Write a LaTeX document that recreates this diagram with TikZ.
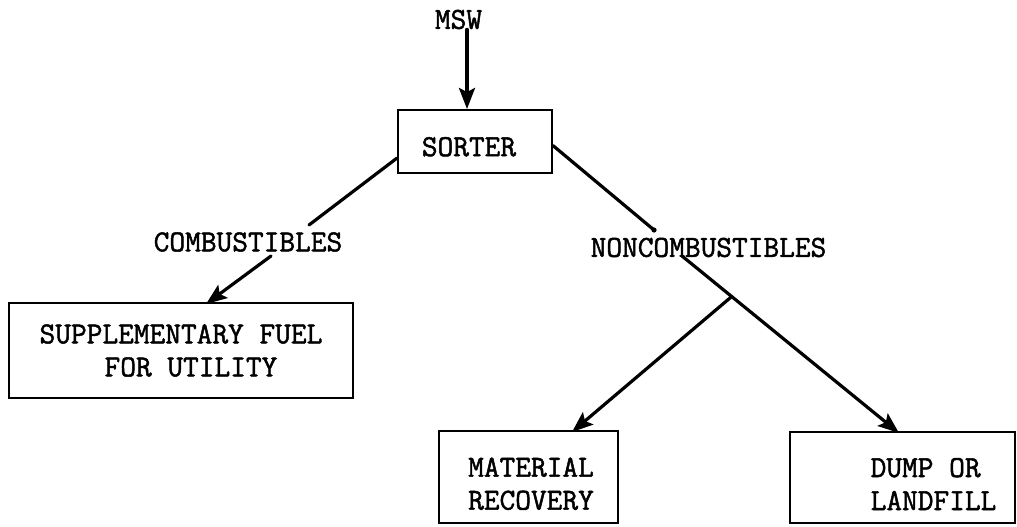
\documentclass[tikz,border=0pt]{standalone}
\usepackage{fontspec}
\usetikzlibrary{arrows.meta,calc}
% a slightly heavier typewriter face
\newfontfamily\typewriter[FakeBold=1.6]{lmmono12-regular.otf}
\begin{document}
\begin{tikzpicture}[x=1pt,y=-1pt,
  every node/.style={font={\typewriter\fontsize{30.5}{33}\selectfont}},
  box/.style={draw, line width=2pt, inner sep=0pt},
  tag/.style={inner sep=0pt},
  link/.style={line width=3.2pt, line cap=round},
  arr/.style={link, -{Stealth[length=21pt,width=16pt,inset=4pt]}}]

\useasboundingbox (0,0) rectangle (1017,527);

% text labels and boxes
\node[tag] (msw) at (458.5,19.5) {MSW};
\node[box, minimum width=154pt, minimum height=63pt] (sorter) at (475,141.5)
  {\rule{0pt}{29.6pt}SORTER\hspace*{12pt}};
\node[tag] (comb) at (248,242) {COMBUSTIBLES};
\node[tag] (noncomb) at (708.5,247.5) {NONCOMBUSTIBLES};
\node[box, minimum width=344pt, minimum height=95pt, align=center] (fuel) at (181,350.5)
  {SUPPLEMENTARY FUEL\\\hspace*{20pt}FOR UTILITY};
\node[box, minimum width=179pt, minimum height=92pt, align=center] (recov) at (528.5,477)
  {\rule{0pt}{32.6pt}\hspace*{5pt}MATERIAL\\\hspace*{5pt}RECOVERY};
\node[box, minimum width=225pt, minimum height=91pt, align=left] (dump) at (902.5,477.5)
  {\rule{0pt}{32pt}\hspace*{62pt}DUMP OR\\\hspace*{62pt}LANDFILL};

% connector end points next to the labels
\coordinate (ax) at (467,0);
\coordinate (combin) at (309,225);
\coordinate (combout) at (271,256);
\coordinate (noncombin) at (654,230);
\coordinate (noncombout) at (682,256);
\coordinate (dumptip) at ([xshift=110pt,yshift=-2pt]dump.north west);
\coordinate (fork) at ($(noncombout)!0.229!(dumptip)$);

% connectors
\draw[arr] (msw.south -| ax) -- (sorter.north -| ax);
\draw[link] (sorter.192) -- (combin);
\draw[arr] (combout) -- ([xshift=198pt,yshift=-2pt]fuel.north west);
\draw[link] (sorter.-3) -- (noncombin);
\fill (noncombin) circle (2.6pt);
\draw[arr] (noncombout) -- (dumptip);
\draw[arr] (fork) -- ([xshift=134pt,yshift=-2pt]recov.north west);
\end{tikzpicture}
\end{document}
